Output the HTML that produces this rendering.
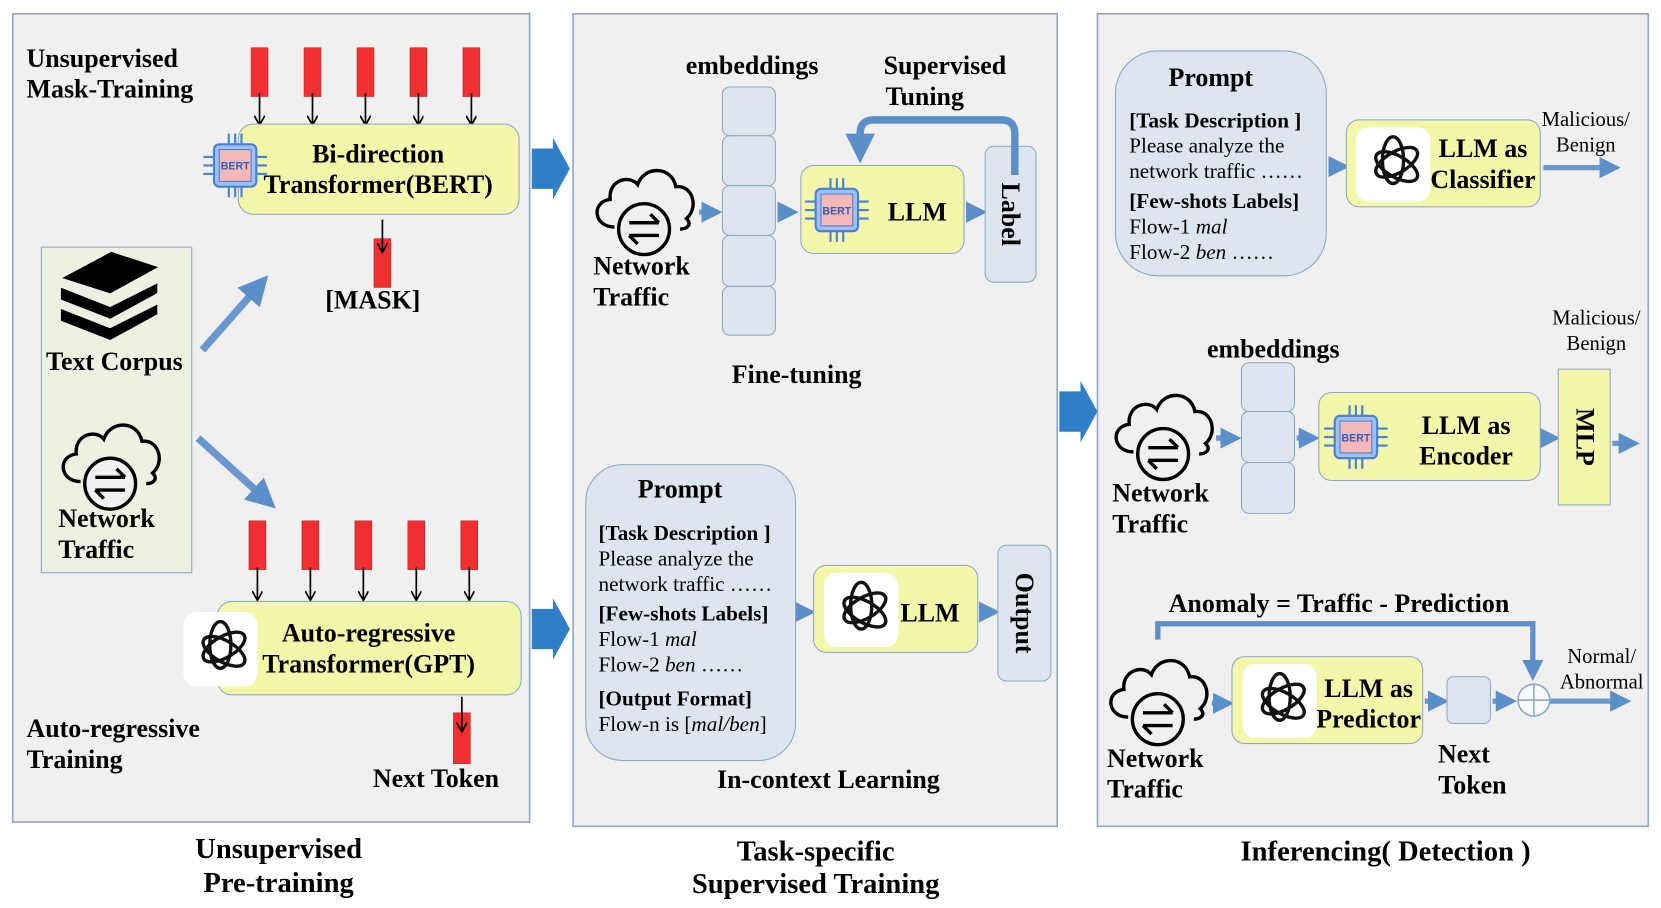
<!DOCTYPE html>
<html><head><meta charset="utf-8"><style>
html,body{margin:0;padding:0;background:#fff;}
svg{display:block;}
text{font-family:"Liberation Serif",serif;font-weight:bold;fill:#000;}
.r{font-weight:normal;}
</style></head><body>
<svg width="1661" height="908" viewBox="0 0 1568 856" preserveAspectRatio="none" xmlns="http://www.w3.org/2000/svg">
<defs>
<marker id="ah" markerWidth="4" markerHeight="4" refX="2" refY="2" orient="auto" markerUnits="strokeWidth"><path d="M0,0 L4,2 L0,4 z" fill="#5b8fc9"/></marker>
<marker id="bk" markerWidth="10" markerHeight="10" refX="9" refY="5" orient="auto" markerUnits="userSpaceOnUse"><path d="M0,0 L9,5 L0,10" fill="none" stroke="#000" stroke-width="1.6"/></marker>
<g id="cloud" fill="none" stroke="#000" stroke-width="3.2">
<path d="M24,62 C4,62 2,38 20,36 C18,18 38,12 46,22 C52,4 78,4 82,24 C98,22 104,44 92,54 C98,60 92,64 86,64"/>
<circle cx="52" cy="64" r="24" fill="#f0f0f0"/>
<path d="M38,58 L66,58 M58,50 L66,58 M66,70 L38,70 M46,78 L38,70"/>
</g>
<g id="gpt">
<rect x="0" y="0" width="70" height="70" rx="12" fill="#fff"/>
<g fill="none" stroke="#111" stroke-width="3.2" transform="translate(35,35)">
<ellipse rx="10" ry="22" transform="rotate(0) translate(0,-4)"/>
<ellipse rx="10" ry="22" transform="rotate(60) translate(0,-4)"/>
<ellipse rx="10" ry="22" transform="rotate(120) translate(0,-4)"/>
</g>
</g>
<g id="chip">
<g stroke="#4a7fd6" stroke-width="2" fill="none">
<path d="M20,10 V0 M26,10 V0 M32,10 V0 M20,50 V60 M26,50 V60 M32,50 V60 M6,22 H-4 M6,30 H-4 M6,38 H-4 M46,22 H56 M46,30 H56 M46,38 H56"/>
</g>
<rect x="6" y="10" width="40" height="40" rx="5" fill="#9fc0f2" stroke="#4a7fd6" stroke-width="2"/>
<rect x="11" y="15" width="30" height="30" fill="#f4b8b8" stroke="#4a7fd6"/>
<text x="26" y="34" font-size="10" text-anchor="middle" style="fill:#2d5fb5;font-family:'Liberation Sans',sans-serif">BERT</text>
</g>
</defs>
<rect width="1568" height="856" fill="#fff"/>
<rect x="12" y="13" width="488" height="762" fill="#f0f0f0" stroke="#8ea6c7" stroke-width="1.5"/>
<rect x="541" y="13" width="457" height="766" fill="#f0f0f0" stroke="#8ea6c7" stroke-width="1.5"/>
<rect x="1036" y="13" width="520" height="766" fill="#f0f0f0" stroke="#8ea6c7" stroke-width="1.5"/>

<!-- Panel 1 -->
<text x="25" y="63" font-size="24.5">Unsupervised</text>
<text x="25" y="92" font-size="24.5">Mask-Training</text>
<g fill="#f03030" stroke="#b02020" stroke-width="0.5">
<rect x="237" y="45" width="16" height="46"/><rect x="287" y="45" width="16" height="46"/><rect x="337" y="45" width="16" height="46"/><rect x="387" y="45" width="16" height="46"/><rect x="437" y="45" width="16" height="46"/>
<rect x="353" y="225" width="16" height="46"/>
<rect x="235" y="491" width="16" height="46"/><rect x="285" y="491" width="16" height="46"/><rect x="335" y="491" width="16" height="46"/><rect x="385" y="491" width="16" height="46"/><rect x="435" y="491" width="16" height="46"/>
<rect x="428" y="672" width="16" height="48"/>
</g>
<g stroke="#000" stroke-width="1.6" marker-end="url(#bk)">
<line x1="245" y1="88" x2="245" y2="118"/><line x1="295" y1="88" x2="295" y2="118"/><line x1="345" y1="88" x2="345" y2="118"/><line x1="395" y1="88" x2="395" y2="118"/><line x1="445" y1="88" x2="445" y2="118"/>
<line x1="361" y1="207" x2="361" y2="238"/>
<line x1="243" y1="535" x2="243" y2="566"/><line x1="293" y1="535" x2="293" y2="566"/><line x1="343" y1="535" x2="343" y2="566"/><line x1="393" y1="535" x2="393" y2="566"/><line x1="443" y1="535" x2="443" y2="566"/>
<line x1="436" y1="657" x2="436" y2="690"/>
</g>
<rect x="225" y="117" width="265" height="85" rx="14" fill="#f2f7a9" stroke="#8ea6c7"/>
<use href="#chip" x="196" y="126"/>
<text x="357" y="153" font-size="24.5" text-anchor="middle">Bi-direction</text>
<text x="357" y="182" font-size="24.5" text-anchor="middle">Transformer(BERT)</text>
<text x="352" y="291" font-size="24.5" text-anchor="middle">[MASK]</text>
<rect x="39" y="233" width="142" height="307" fill="#eef0e2" stroke="#8ea6c7"/>
<g fill="#000" stroke="#000">
<path d="M60,262 L105,238 L148,252 L104,276 Z"/>
<path d="M58,272 L104,290 L148,268 L148,276 L104,300 L58,282 Z"/>
<path d="M58,292 L104,310 L148,288 L148,296 L104,320 L58,302 Z"/>
</g>
<text x="108" y="349" font-size="24.5" text-anchor="middle">Text Corpus</text>
<use href="#cloud" x="52" y="392"/>
<text x="55" y="497" font-size="24.5">Network</text>
<text x="55" y="526" font-size="24.5">Traffic</text>
<line x1="191" y1="330" x2="244" y2="270" stroke="#6b97cf" stroke-width="7" marker-end="url(#ah)"/>
<line x1="187" y1="413" x2="250" y2="470" stroke="#6b97cf" stroke-width="7" marker-end="url(#ah)"/>
<rect x="205" y="567" width="287" height="88" rx="14" fill="#f2f7a9" stroke="#8ea6c7"/>
<use href="#gpt" x="173" y="577"/>
<text x="348" y="605" font-size="24.5" text-anchor="middle">Auto-regressive</text>
<text x="348" y="634" font-size="24.5" text-anchor="middle">Transformer(GPT)</text>
<text x="352" y="742" font-size="24.5">Next Token</text>
<text x="25" y="695" font-size="24.5">Auto-regressive</text>
<text x="25" y="724" font-size="24.5">Training</text>
<text x="263" y="809" font-size="27" text-anchor="middle">Unsupervised</text>
<text x="263" y="841" font-size="27" text-anchor="middle">Pre-training</text>

<g fill="#2f7fc8">
<path d="M502,140 L522,140 L522,130 L538,159 L522,188 L522,178 L502,178 Z"/>
<path d="M502,574 L522,574 L522,564 L538,593 L522,622 L522,612 L502,612 Z"/>
<path d="M1000,369 L1020,369 L1020,359 L1036,388 L1020,417 L1020,407 L1000,407 Z"/>
</g>

<!-- Panel 2 -->
<text x="710" y="70" font-size="24.5" text-anchor="middle">embeddings</text>
<text x="892" y="70" font-size="24.5" text-anchor="middle">Supervised</text>
<text x="873" y="99" font-size="24.5" text-anchor="middle">Tuning</text>
<g fill="#dde6ef" stroke="#8aa8c8">
<rect x="682" y="82" width="50" height="46" rx="7"/><rect x="682" y="128" width="50" height="47" rx="7"/><rect x="682" y="175" width="50" height="47" rx="7"/><rect x="682" y="222" width="50" height="48" rx="7"/><rect x="682" y="270" width="50" height="46" rx="7"/>
</g>
<use href="#cloud" x="556" y="152"/>
<text x="560" y="259" font-size="24.5">Network</text>
<text x="560" y="288" font-size="24.5">Traffic</text>
<g stroke="#6b97cf" stroke-width="5" marker-end="url(#ah)">
<line x1="660" y1="200" x2="672" y2="200"/>
<line x1="735" y1="200" x2="744" y2="200"/>
<line x1="912" y1="200" x2="922" y2="200"/>
<line x1="753" y1="577" x2="760" y2="577"/>
<line x1="925" y1="577" x2="934" y2="577"/>
<line x1="1255" y1="157" x2="1264" y2="157"/>
<line x1="1457" y1="158" x2="1520" y2="158"/>
<line x1="1148" y1="413" x2="1162" y2="413"/>
<line x1="1224" y1="413" x2="1236" y2="413"/>
<line x1="1456" y1="413" x2="1463" y2="413"/>
<line x1="1522" y1="418" x2="1538" y2="418"/>
<line x1="1144" y1="663" x2="1155" y2="663"/>
<line x1="1345" y1="661" x2="1358" y2="661"/>
<line x1="1409" y1="661" x2="1422" y2="661"/>
<line x1="1463" y1="661" x2="1530" y2="661"/>
</g>
<rect x="756" y="156" width="154" height="83" rx="12" fill="#f2f7a9" stroke="#8ea6c7"/>
<use href="#chip" x="764" y="168"/>
<text x="838" y="208" font-size="24.5">LLM</text>
<rect x="930" y="138" width="48" height="128" rx="8" fill="#dde6ef" stroke="#8aa8c8"/>
<text font-size="24.5" text-anchor="middle" transform="translate(946,202) rotate(90)">Label</text>
<path d="M958,165 L958,126 Q958,113 945,113 L825,113 Q812,113 812,126 L812,140" fill="none" stroke="#5b8fc9" stroke-width="7" marker-end="url(#ah)"/>
<text x="752" y="361" font-size="24.5" text-anchor="middle">Fine-tuning</text>
<rect x="553" y="438" width="198" height="279" rx="35" fill="#dde6ef" stroke="#8aa8c8"/>
<text x="642" y="469" font-size="24.5" text-anchor="middle">Prompt</text>
<text x="565" y="509" font-size="20">[Task Description ]</text>
<text x="565" y="533" font-size="20" class="r">Please analyze the</text>
<text x="565" y="557" font-size="20" class="r">network traffic ……</text>
<text x="565" y="585" font-size="20">[Few-shots Labels]</text>
<text x="565" y="609" font-size="20" class="r">Flow-1 <tspan font-style="italic">mal</tspan></text>
<text x="565" y="633" font-size="20" class="r">Flow-2 <tspan font-style="italic">ben</tspan> ……</text>
<text x="565" y="665" font-size="20">[Output Format]</text>
<text x="565" y="689" font-size="20" class="r">Flow-n is [<tspan font-style="italic">mal/ben</tspan>]</text>
<rect x="768" y="533" width="155" height="82" rx="12" fill="#f2f7a9" stroke="#8ea6c7"/>
<use href="#gpt" x="778" y="540"/>
<text x="850" y="586" font-size="24.5">LLM</text>
<rect x="942" y="514" width="50" height="128" rx="8" fill="#dde6ef" stroke="#8aa8c8"/>
<text font-size="24.5" text-anchor="middle" transform="translate(959,578) rotate(90)">Output</text>
<text x="782" y="743" font-size="24.5" text-anchor="middle">In-context Learning</text>
<text x="770" y="811" font-size="27" text-anchor="middle">Task-specific</text>
<text x="770" y="842" font-size="27" text-anchor="middle">Supervised Training</text>

<!-- Panel 3 -->
<rect x="1053" y="48" width="199" height="212" rx="40" fill="#dde6ef" stroke="#8aa8c8"/>
<text x="1143" y="81" font-size="24.5" text-anchor="middle">Prompt</text>
<text x="1066" y="120" font-size="20">[Task Description ]</text>
<text x="1066" y="144" font-size="20" class="r">Please analyze the</text>
<text x="1066" y="168" font-size="20" class="r">network traffic ……</text>
<text x="1066" y="196" font-size="20">[Few-shots Labels]</text>
<text x="1066" y="220" font-size="20" class="r">Flow-1 <tspan font-style="italic">mal</tspan></text>
<text x="1066" y="244" font-size="20" class="r">Flow-2 <tspan font-style="italic">ben</tspan> ……</text>
<rect x="1271" y="113" width="183" height="82" rx="12" fill="#f2f7a9" stroke="#8ea6c7"/>
<use href="#gpt" x="1280" y="120"/>
<text x="1400" y="148" font-size="24.5" text-anchor="middle">LLM as</text>
<text x="1400" y="177" font-size="24.5" text-anchor="middle">Classifier</text>
<text x="1497" y="119" font-size="19.5" class="r" text-anchor="middle">Malicious/</text>
<text x="1497" y="143" font-size="19.5" class="r" text-anchor="middle">Benign</text>
<text x="1202" y="337" font-size="24.5" text-anchor="middle">embeddings</text>
<text x="1507" y="306" font-size="19.5" class="r" text-anchor="middle">Malicious/</text>
<text x="1507" y="330" font-size="19.5" class="r" text-anchor="middle">Benign</text>
<g fill="#dde6ef" stroke="#8aa8c8">
<rect x="1172" y="342" width="50" height="46" rx="7"/><rect x="1172" y="388" width="50" height="48" rx="7"/><rect x="1172" y="436" width="50" height="48" rx="7"/>
</g>
<use href="#cloud" x="1046" y="364"/>
<text x="1050" y="473" font-size="24.5">Network</text>
<text x="1050" y="502" font-size="24.5">Traffic</text>
<rect x="1245" y="370" width="209" height="83" rx="12" fill="#f2f7a9" stroke="#8ea6c7"/>
<use href="#chip" x="1254" y="382"/>
<text x="1384" y="409" font-size="24.5" text-anchor="middle">LLM as</text>
<text x="1384" y="438" font-size="24.5" text-anchor="middle">Encoder</text>
<rect x="1471" y="348" width="49" height="128" fill="#f2f7a9" stroke="#8ea6c7"/>
<text font-size="24.5" text-anchor="middle" transform="translate(1488,412) rotate(90)">MLP</text>
<text x="1264" y="577" font-size="24.5" text-anchor="middle">Anomaly = Traffic - Prediction</text>
<path d="M1093,603 L1093,588 L1447,588 L1447,632" fill="none" stroke="#5b8fc9" stroke-width="5" marker-end="url(#ah)"/>
<use href="#cloud" x="1041" y="614"/>
<text x="1045" y="723" font-size="24.5">Network</text>
<text x="1045" y="752" font-size="24.5">Traffic</text>
<rect x="1163" y="619" width="180" height="82" rx="12" fill="#f2f7a9" stroke="#8ea6c7"/>
<use href="#gpt" x="1173" y="626"/>
<text x="1292" y="657" font-size="24.5" text-anchor="middle">LLM as</text>
<text x="1292" y="686" font-size="24.5" text-anchor="middle">Predictor</text>
<rect x="1366" y="638" width="41" height="44" rx="6" fill="#dde6ef" stroke="#8aa8c8"/>
<circle cx="1448" cy="660" r="15" fill="#f8f8f8" stroke="#8aa8c8" stroke-width="1.5"/>
<path d="M1433,660 H1463 M1448,645 V675" stroke="#8aa8c8" stroke-width="1.5"/>
<text x="1512" y="625" font-size="19.5" class="r" text-anchor="middle">Normal/</text>
<text x="1512" y="649" font-size="19.5" class="r" text-anchor="middle">Abnormal</text>
<text x="1382" y="719" font-size="24.5" text-anchor="middle">Next</text>
<text x="1390" y="748" font-size="24.5" text-anchor="middle">Token</text>
<text x="1308" y="811" font-size="27" text-anchor="middle">Inferencing( Detection )</text>
</svg>
</body></html>
